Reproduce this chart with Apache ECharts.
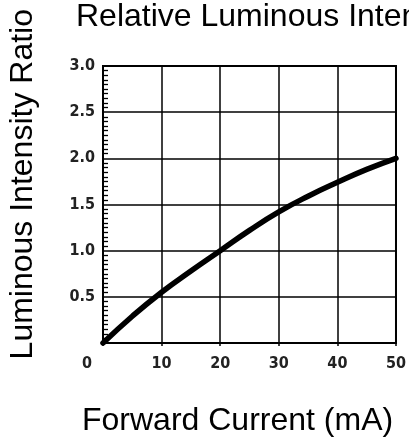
<!DOCTYPE html>
<html><head><meta charset="utf-8">
<script src="https://cdn.jsdelivr.net/npm/echarts@6/dist/echarts.min.js"></script>
<style>html,body{margin:0;padding:0;background:#fff}#c{width:409px;height:441px}</style>
</head><body><div id="c"></div>
<script>
const currents = [0, 5, 10, 15, 20, 25, 30, 35, 40, 45, 50];
const ratios = [0, 0.29, 0.55, 0.78, 1.0, 1.22, 1.42, 1.59, 1.74, 1.88, 2.0];
const xTicks = [0, 10, 20, 30, 40, 50];
const yTicks = [0.5, 1.0, 1.5, 2.0, 2.5, 3.0];
const titleText = 'Relative Luminous Intensity';
const xName = 'Forward Current (mA)';
const yName = 'Luminous Intensity Ratio';

const chart = echarts.init(document.getElementById('c'), null, {renderer: 'canvas'});
const lblFont = {fontFamily: '"Liberation Sans Narrow", "DejaVu Sans Condensed", sans-serif', fontSize: 16, fontWeight: 'bold', color: '#222'};
chart.setOption({
  animation: false,
  backgroundColor: '#fff',
  title: {text: titleText, left: 76, top: 1, padding: 0,
    textStyle: {fontFamily: 'Liberation Sans', fontSize: 32, fontWeight: 'normal', color: '#000'}},
  graphic: [
    {type: 'text', left: 7, top: 9, rotation: Math.PI / 2,
      style: {text: yName, font: '32px "Liberation Sans"', fill: '#000'}},
    {type: 'text', left: 82, top: 405,
      style: {text: xName, font: '32px "Liberation Sans"', fill: '#000'}}
  ],
  grid: {left: 103, right: 12, top: 66, bottom: 98, show: true, borderColor: '#000', borderWidth: 2},
  xAxis: {
    type: 'value', min: 0, max: 50, interval: 10,
    axisLine: {show: true, lineStyle: {color: '#000', width: 2}},
    axisTick: {show: true, length: 3, lineStyle: {color: '#000', width: 1.5}},
    splitLine: {show: true, lineStyle: {color: '#000', width: 1.5}},
    axisLabel: Object.assign({margin: 13, showMaxLabel: true,
      formatter: v => xTicks.includes(v) ? (v === 0 ? '{z|0}' : String(v)) : '',
      rich: {z: Object.assign({padding: [0, 32, 0, 0]}, lblFont)}}, lblFont)
  },
  yAxis: {
    type: 'value', min: 0, max: 3, interval: 0.5,
    axisLine: {show: true, lineStyle: {color: '#000', width: 2}},
    axisTick: {show: false, inside: true},
    minorTick: {show: true, splitNumber: 10, length: 5, lineStyle: {color: '#000', width: 1.3}},
    splitLine: {show: true, lineStyle: {color: '#000', width: 1.5}},
    axisLabel: Object.assign({margin: 8,
      formatter: v => yTicks.some(t => Math.abs(t - v) < 1e-6) ? v.toFixed(1) : ''}, lblFont)
  },
  series: [{
    type: 'line', data: currents.map((c, i) => [c, ratios[i]]),
    smooth: true, symbol: 'none',
    lineStyle: {color: '#000', width: 5.5, cap: 'round'}
  }]
});
</script></body></html>
